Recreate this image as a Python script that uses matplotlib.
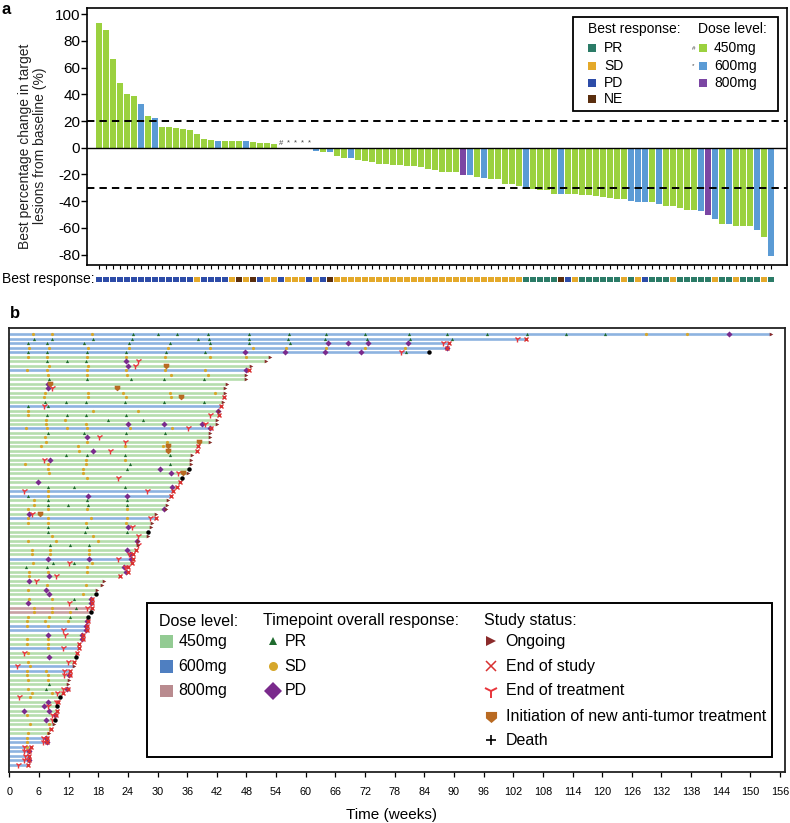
import matplotlib
matplotlib.use('Agg')
import matplotlib.pyplot as plt
from matplotlib.patches import Rectangle
from matplotlib.path import Path
import numpy as np

plt.rcParams['font.family'] = ['Liberation Sans', 'DejaVu Sans']

W, H = 790, 823
fig = plt.figure(figsize=(W / 100, H / 100), dpi=100)


def fx(x):
    return x / W


def fy(y):
    return 1 - y / H


# ---------------- Panel a data ----------------
change = [93, 88.3, 66.3, 48.4, 40.4, 38.4, 32.4, 23.7, 22, 15.7, 15.7, 14.5, 14.2, 13.2, 10.2,
          6.2, 6, 5, 5, 4.7, 4.7, 4.7, 4.4, 3.7, 3.2, 2.5,
          0, 0, 0, 0, 0,
          -2.8, -3, -3, -5.8, -7.3, -7.8, -9, -9.8, -11, -11.8,
          -12.3, -12.8, -13, -13.3, -14, -14.3, -16, -16.5, -17.8, -18,
          -18, -20.5, -20.5, -21.8, -22.8, -23.3, -23.6, -26.8, -27.3, -28.3,
          -30.3, -31, -31.3, -31.8, -34.3, -34.8, -34.8, -34.8, -35, -35.3,
          -36, -36.8, -37.6, -38, -38.6, -39.8, -40.6, -40.6, -40.8, -42.4,
          -43.6, -43.6, -44.9, -46.6, -46.6, -47.4, -50.6, -53.6, -56.9, -57.4,
          -58.2, -58.2, -58.4, -61.7, -66.4, -80.7]
dose_a = ("GGGGGGBGBG" "GGGGGGGBGG" "GBGGGGGBBB" "BBGBGGBGGG" "GGGGGGGGGG"
          "GGPBGBGGGG" "GBGGGGBGGG" "GGGGGGBBBG" "BGGGGGBPBG" "BGGGBGB")
best_resp = ("DDDDDDDDDDDDDD" "S" "DDDD" "SNSN" "D" "SS" "D" "SSS" "D" "S" "D" "N"
             "SSSSSSSSSSSSSSSSSSSSSSSSSSS" "RRRRR" "N" "D" "S" "RRRRRR" "S" "R" "S" "D"
             "RRR" "S" "RRRRR" "S" "RR" "S" "RRR" "S" "R")
zero_marks = ['#', '*', '*', '*', '*']
zero_idx = [26, 27, 28, 29, 30]
assert len(change) == 97 and len(dose_a) == 97 and len(best_resp) == 97

dose_col_a = {'G': '#9BD13F', 'B': '#5B9BD5', 'P': '#7B46A3'}
resp_col = {'R': '#2B7B67', 'S': '#E4A92A', 'D': '#2D4CA8', 'N': '#5A2E0E'}

# ---------------- Panel b data (rows top to bottom) ----------------
sw_end = [154.2, 104.5, 89, 88.5, 85, 52.8, 52, 48.9, 48.5, 47.9,
          48, 44, 43.7, 43.7, 43.5, 43.2, 42.8, 42.4, 42.4, 42,
          42, 40.8, 40.6, 40.6, 40.6, 38.1, 38, 36.9, 36.8, 36.7,
          36.3, 36.2, 34.9, 34.5, 34, 33.2, 32.7, 32.2, 32, 31.8,
          29.7, 29.7, 28.8, 28.6, 28, 28.1, 26, 26.1, 25.6, 25,
          25, 24.9, 24.1, 24.1, 22.5, 19.2, 18.8, 17.7, 17.5, 16.7,
          16.7, 16.7, 16.5, 16, 15.9, 15.8, 15.7, 15, 15, 14.1,
          14.1, 13.8, 13.5, 13, 13, 12.3, 12.3, 12.1, 11.9, 11.9,
          10.9, 10.3, 9.9, 9.7, 9.7, 9.4, 9.2, 9.0, 8.4, 8.1,
          7.6, 7.7, 4.4, 4.0, 4.0, 4.0, 3.7]
sw_dose = ("BBBBBGGGBG" "GGGGGGBGGG" "GBGGGGGGGG" "GGGGGBBGGG" "GBGGGGGGGG"
           "BGGGGGGGGG" "GPPGGBBGGG" "BGGGBBGGGG" "GGGGGGGGGG" "BBBBBBB")
sw_status = ("OXXXDOOOXO" "OOOOXOXOXO" "OXOOOXXOOO" "DODXXXXOOO" "OXOODOOOXX"
             "XXXXXOOODX" "XXDDXXXXXX" "XXDXOXXOOX" "XDXDXXDOXO" "XXXXXXX")
sw_pr = [[25, 30, 34, 40.3, 48.6, 56.7, 64.1, 72, 80.9, 88.6, 96.7, 104.8, 112.7, 120.6],
         [4.9, 8.6, 16.9, 24.8, 38.1, 40.5, 48.6, 56.5, 63.8, 72.3, 81.1, 89.6],
         [3.7, 7.6, 15.1, 24.3, 32.5, 40.6, 48.6, 56.8], [],
         [3.7, 7.6, 15.8, 23.6, 31.7, 39.6, 80.2], [], [7.6, 11.6, 15.5], [], [], [],
         [8.1, 15.8, 24.6, 31.4, 39.4], [], [], [], [], [7.2, 11.4, 15.5, 23.4, 31.4, 39.4],
         [3.8, 7.9], [], [7.6, 11.6, 15.5, 23.6], [20, 27],
         [], [], [7.8, 15.1, 23.6, 31.6], [], [], [], [], [11.5, 15.7, 23.4, 32.5], [], [24.4, 32.5],
         [23.8], [], [], [], [7.9, 13.1, 23.4], [], [3.8], [7.9, 15.7, 23.8], [7.9, 11.9, 16, 23.9], [],
         [], [], [], [7.8, 15.7], [7.9, 15.3, 23.8], [], [], [8.2, 12.3, 16.2], [], [],
         [], [8.8, 13.1], [3.4, 7.6], [], [], [], [], [], [], [13.1],
         [], [13.5], [], [12.3], [], [], [], [], [], [],
         [], [], [], [], [], [], [], [], [8.1], [7.4],
         [], [], [], [], [], [], [], [], [], [],
         [], [], [], [], [], [], []]
sw_sd = [[4.7, 8.6, 16.7, 128.9, 137.2], [], [], [4, 8, 16, 24.3, 32.2, 40.6, 49.4, 56.1, 64.2, 71.9, 80], [],
         [3.7, 7.6, 15.8, 23.6, 31.6, 40.6, 48], [], [8, 16], [3.5, 7.6, 15.8, 23.6, 31.6, 39.6],
         [7.9, 15.8, 23.9, 32.7, 40.3],
         [], [], [], [7.2, 16, 23.1, 32.5, 41.6], [7.1, 16, 23.6, 32.7], [], [], [3.8, 17, 26], [3.7], [7.4, 11.3],
         [7.4, 15.5], [3.4, 7.6, 11.6, 15.8, 24.4, 33], [], [7.2], [7.4, 15.7, 32], [6.5, 14, 23.4, 31.2],
         [14.1], [], [15.5, 23.5], [3.2, 7.9, 15.5],
         [7.9, 15], [8.1, 15], [15.7], [], [], [7.9], [7.9], [4.9], [4.9], [3.8, 7.9, 15.7, 23.8],
         [], [3.7, 7.8, 16.5, 23.8], [3.7, 7.8, 15.5, 23.6], [], [], [8.6, 17], [3.7, 9.4, 17.9], [],
         [4.5, 8.2, 16.1], [4.5, 8.2, 16.1],
         [], [4.7, 16.7], [15.7], [4, 7.9, 15.8], [4], [], [7.6, 15.5], [3.8], [15], [4, 8.6],
         [], [4.9, 8.6], [4.9, 8.6, 12.3], [3.7, 8.1], [3.5, 7.2, 11.9], [3.5, 7.9], [], [], [3.6, 7.9], [3.6, 7.9],
         [7.9], [3.8], [], [3.8], [4.2], [3.5, 7.4], [3.6, 7.9], [3.8, 7.9], [], [3.8],
         [4.5, 8.6], [4.2], [], [], [], [3.5], [], [4.2, 8.1], [8.2], [3.8, 7.9],
         [3.6], [3.5], [3.5], [], [], [], []]
sw_pd = [[145.7], [], [64.6, 68.6, 72.5, 80.7], [88.5], [47.7, 55.8, 63.9, 71.2], [], [23.6], [24], [48], [],
         [], [7.8], [7.8], [], [], [], [], [42.2], [], [],
         [24, 31.4, 39.1], [40.6], [], [15.8], [], [], [16.9], [], [8.2], [],
         [30.6], [32.7], [], [5.9], [32.9], [], [16, 23.8], [], [], [31.4],
         [4], [], [], [24], [], [], [25.8], [], [23.9], [24.4],
         [7.9, 16.1, 24.6], [], [23.2], [23.6], [8.1], [4], [], [7.4], [8.1], [16.5],
         [3.7, 16.5], [], [], [], [15.7], [15.6], [15.5], [7.9, 14.8], [14.8], [],
         [], [], [8.1], [], [], [], [12.1], [], [], [11.7],
         [], [], [7.9], [7.1], [3, 8], [9.2], [7.4], [], [], [],
         [7.4], [7.6], [], [4], [], [4], []]
sw_eot = [[], [102.7], [87.7], [], [79.2], [], [26], [25.4], [], [],
          [], [], [8.7], [], [], [], [7.1], [], [40.6], [],
          [39.6], [36.1], [], [18.2], [23.5], [], [20.4], [], [7.1], [],
          [], [34.1], [22.1], [], [], [3, 27.8], [], [], [], [],
          [4.6], [28.5], [], [24.8], [], [26], [], [26], [], [24.2],
          [22.1], [12.1], [23.4], [], [9.4], [5.4], [], [], [], [],
          [12.1], [15.8], [], [], [], [], [10.9], [11.3], [], [],
          [10.9], [3], [], [11.9], [1.6], [11.1], [11.1], [], [], [10.9],
          [9.6], [2], [9.4], [7.9], [], [8.6], [8.6], [], [], [],
          [6.9], [6.9], [3], [3], [3.2], [3], [1.8]]
sw_newtx = [[], [], [], [], [], [], [], [31.7], [], [],
            [], [8.2], [21.7], [], [34.7], [], [], [], [], [],
            [], [], [], [], [38.4], [32.2], [32.2], [], [], [],
            [], [35.1], [], [], [], [], [], [], [], [],
            [6.2], [], [], [], [], [], [], [], [], [],
            [], [], [], [], [], [], [], [], [], [],
            [], [], [], [], [], [], [], [], [], [],
            [], [], [], [], [], [], [], [], [], [],
            [], [], [], [], [], [], [], [], [], [],
            [], [], [], [], [], [], []]
assert len(sw_end) == 97 and len(sw_dose) == 97 and len(sw_status) == 97
assert all(len(a) == 97 for a in [sw_pr, sw_sd, sw_pd, sw_eot, sw_newtx])
week_ticks = list(range(0, 157, 6))

line_col = {'G': '#B5DDAD', 'B': '#8DB3E0', 'P': '#C9A1A3'}
leg_col = {'G': '#93CB93', 'B': '#4F7FC1', 'P': '#B98B8F'}
c_pr, c_sd, c_pd = '#1F6B2E', '#D6A72B', '#7A2A8C'
c_on, c_x, c_y, c_nt = '#8B2B2B', '#D93030', '#E8353B', '#B96A22'
shield = Path([(-1, 1), (1, 1), (1, -0.15), (0, -1), (-1, -0.15), (-1, 1)],
              [Path.MOVETO, Path.LINETO, Path.LINETO, Path.LINETO, Path.LINETO, Path.CLOSEPOLY])

# ---------------- Panel a ----------------
axa = fig.add_axes([fx(87.3), fy(265), fx(787.3) - fx(87.3), fy(8.3) - fy(265)])
xa = np.arange(len(change))
axa.bar(xa, change, width=0.86, color=[dose_col_a[d] for d in dose_a], linewidth=0, zorder=2)
axa.set_xlim(-1.7, 98.3)
axa.set_ylim(-87.7, 104.3)
axa.axhline(0, color='black', lw=1.0, zorder=3)
for yv in (20, -30):
    axa.axhline(yv, color='black', lw=1.4, dashes=(3.8, 2.6), zorder=3)
for i, m in zip(zero_idx, zero_marks):
    axa.text(i, 3.5, m, ha='center', va='center', fontsize=5.5, color='#444444')
axa.set_yticks(range(-80, 101, 20))
axa.set_yticklabels([str(v) for v in range(-80, 101, 20)], fontsize=11)
axa.set_xticks(xa)
axa.set_xticklabels([])
axa.tick_params(axis='y', direction='out', length=4, width=1, pad=1)
axa.tick_params(axis='x', direction='out', length=3, width=0.8)
for s in axa.spines.values():
    s.set_linewidth(1.2)

fig.text(fx(32.5), fy(146), 'Best percentage change in target\nlesions from baseline (%)',
         rotation=90, ha='center', va='center', fontsize=10, linespacing=1.1, multialignment='center',
         color='#222222')
fig.text(fx(2), fy(10), 'a', fontsize=12, fontweight='bold', ha='left', va='center')

# best response strip
axs = fig.add_axes([fx(87.3), fy(282), fx(787.3) - fx(87.3), fy(276.5) - fy(282)])
axs.bar(xa, [1] * len(xa), width=0.82, color=[resp_col[r] for r in best_resp], linewidth=0)
axs.set_xlim(-1.7, 98.3)
axs.set_ylim(0, 1)
axs.axis('off')
fig.text(fx(2), fy(279.5), 'Best response:', fontsize=10, ha='left', va='center')

# legend a
fig.add_artist(Rectangle((fx(573), fy(111)), fx(778) - fx(573), fy(17) - fy(111),
                         transform=fig.transFigure, fill=False, lw=1.3, ec='black'))
fig.text(fx(588), fy(29), 'Best response:', fontsize=10, ha='left', va='center')
for lab, key, yy in zip(['PR', 'SD', 'PD', 'NE'], ['R', 'S', 'D', 'N'], [48, 66, 83, 99]):
    fig.add_artist(Rectangle((fx(588), fy(yy + 4)), 8 / W, 8 / H, transform=fig.transFigure,
                             color=resp_col[key], lw=0))
    fig.text(fx(604), fy(yy), lab, fontsize=10, ha='left', va='center')
fig.text(fx(698), fy(29), 'Dose level:', fontsize=10, ha='left', va='center')
for lab, key, yy, mk in zip(['450mg', '600mg', '800mg'], ['G', 'B', 'P'], [48, 66, 83], ['#', '*', '']):
    fig.add_artist(Rectangle((fx(698.5), fy(yy + 4)), 8 / W, 8 / H, transform=fig.transFigure,
                             color=dose_col_a[key], lw=0))
    fig.text(fx(714), fy(yy), lab, fontsize=10, ha='left', va='center')
    if mk:
        fig.text(fx(693.5), fy(yy), mk, fontsize=4.5, ha='center', va='center', color='#444444')

# ---------------- Panel b ----------------
axb = fig.add_axes([fx(9.3), fy(771.7), fx(785) - fx(9.3), fy(327.7) - fy(771.7)])
nrow = len(sw_end)
rows = np.arange(1, nrow + 1)
for r, e, d in zip(rows, sw_end, sw_dose):
    axb.plot([0, e], [r, r], color=line_col[d], lw=1.9, solid_capstyle='butt', zorder=1)


def scat(lists, **kw):
    xs, ys = [], []
    for r, lst in zip(rows, lists):
        for v in lst:
            xs.append(v)
            ys.append(r)
    axb.plot(xs, ys, linestyle='none', **kw)


scat(sw_sd, marker='o', ms=2.3, color=c_sd, mew=0, zorder=3)
scat(sw_pr, marker='^', ms=2.3, color=c_pr, mew=0, zorder=3)
scat(sw_pd, marker='D', ms=3.1, color=c_pd, mew=0, zorder=4)
scat(sw_eot, marker='1', ms=4.5, color=c_y, mew=1.0, zorder=5)
scat(sw_newtx, marker=shield, ms=4.0, color=c_nt, mew=0, zorder=5)
on_x = [e for e, s in zip(sw_end, sw_status) if s == 'O']
on_y = [r for r, s in zip(rows, sw_status) if s == 'O']
axb.plot(on_x, on_y, linestyle='none', marker='>', ms=2.6, color=c_on, mew=0, zorder=5)
x_x = [e for e, s in zip(sw_end, sw_status) if s == 'X']
x_y = [r for r, s in zip(rows, sw_status) if s == 'X']
axb.plot(x_x, x_y, linestyle='none', marker='x', ms=3.2, color=c_x, mew=1.0, zorder=6)
d_x = [e for e, s in zip(sw_end, sw_status) if s == 'D']
d_y = [r for r, s in zip(rows, sw_status) if s == 'D']
axb.plot(d_x, d_y, linestyle='none', marker='o', ms=3.2, color='black', mew=0, zorder=6)

axb.set_xlim(0, 157)
axb.set_ylim(nrow + 1.55, -0.48)
axb.set_yticks([])
axb.set_xticks(week_ticks)
axb.set_xticklabels([str(w) for w in week_ticks], fontsize=7.8)
axb.tick_params(axis='x', direction='out', length=3.6, width=0.9, pad=7.5)
for s in axb.spines.values():
    s.set_linewidth(1.3)
    s.set_color('#222222')
fig.text(fx(391), fy(815), 'Time (weeks)', fontsize=11, ha='center', va='center')
fig.text(fx(10), fy(313), 'b', fontsize=12, fontweight='bold', ha='left', va='center')

# legend b
fig.add_artist(Rectangle((fx(147.4), fy(757)), fx(772.4) - fx(147.4), fy(603.3) - fy(757),
                         transform=fig.transFigure, fill=False, lw=1.4, ec='black', zorder=10))
fs = 11.5
fig.text(fx(158.6), fy(621), 'Dose level:', fontsize=fs, ha='left', va='center')
for lab, key, yy in zip(['450mg', '600mg', '800mg'], ['G', 'B', 'P'], [641.3, 666.3, 690.7]):
    fig.add_artist(Rectangle((fx(160), fy(yy + 6.2)), 13 / W, 12.4 / H, transform=fig.transFigure,
                             color=leg_col[key], lw=0))
    fig.text(fx(178.4), fy(yy), lab, fontsize=fs, ha='left', va='center')
fig.text(fx(263.1), fy(621), 'Timepoint overall response:', fontsize=fs, ha='left', va='center')
legb_items = [(641.3, '^', c_pr, 6.0, 'PR'), (666.3, 'o', c_sd, 6.5, 'SD'), (690.7, 'D', c_pd, 9.0, 'PD')]
for yy, mk, c, ms, lab in legb_items:
    fig.add_artist(plt.Line2D([fx(273)], [fy(yy)], marker=mk, color=c, ms=ms, mew=0,
                              transform=fig.transFigure, linestyle='none'))
    fig.text(fx(284.6), fy(yy), lab, fontsize=fs, ha='left', va='center')
fig.text(fx(483.8), fy(621), 'Study status:', fontsize=fs, ha='left', va='center')
stat_items = [(641.3, '>', c_on, 6.5, 0, 'Ongoing'), (666.3, 'x', c_x, 7.5, 1.1, 'End of study'),
              (690.7, '1', c_y, 10, 1.4, 'End of treatment'),
              (716.7, shield, c_nt, 8, 0, 'Initiation of new anti-tumor treatment'),
              (740.3, '+', 'black', 7.5, 1.2, 'Death')]
for yy, mk, c, ms, mew, lab in stat_items:
    fig.add_artist(plt.Line2D([fx(491.2)], [fy(yy)], marker=mk, color=c, ms=ms, mew=mew,
                              transform=fig.transFigure, linestyle='none'))
    fig.text(fx(505.7), fy(yy), lab, fontsize=fs, ha='left', va='center')

fig.savefig('out.png', dpi=100)
